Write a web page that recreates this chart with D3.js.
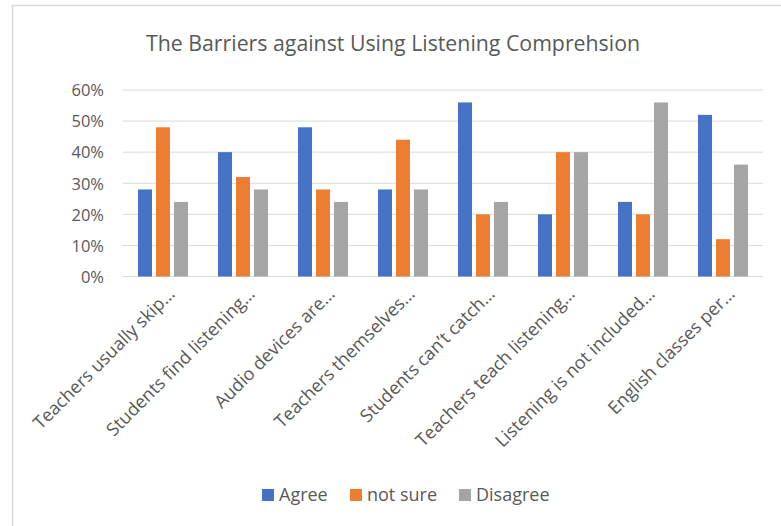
<!DOCTYPE html>
<html><head><meta charset="utf-8">
<script src="https://cdn.jsdelivr.net/npm/d3@7"></script>
<style>html,body{margin:0;padding:0;background:#fff;}svg{display:block;font-family:"Open Sans",sans-serif;}</style>
</head><body>
<script>
const categories = ["Teachers usually skip…","Students find listening…","Audio devices are…","Teachers themselves…","Students can’t catch…","Teachers teach listening…","Listening is not included…","English classes per…"];
const seriesNames = ["Agree","not sure","Disagree"];
const agree    = [0.28,0.40,0.48,0.28,0.56,0.20,0.24,0.52];
const notSure  = [0.48,0.32,0.28,0.44,0.20,0.40,0.20,0.12];
const disagree = [0.24,0.28,0.24,0.28,0.24,0.40,0.56,0.36];
const yTicks = [0,0.1,0.2,0.3,0.4,0.5,0.6];
const colors = ["#4472C4","#ED7D31","#A5A5A5"];
const title = "The Barriers against Using Listening Comprehsion";

const W=781,H=526;
const svg=d3.select("body").append("svg").attr("width",W).attr("height",H);
svg.append("path").attr("d",`M12.5,${H} V5.5 H${W}`).attr("fill","none").attr("stroke","#D9D9D9").attr("stroke-width",1.5);

const series=[agree,notSure,disagree];
const x0=d3.scaleBand().domain(categories).range([123,763]).padding(0);
const x1=d3.scaleBand().domain(seriesNames).range([0,50]).paddingInner(4/18).paddingOuter(0);
const y=d3.scaleLinear().domain([0,0.6]).range([276.5,90]);

const grid=svg.append("g");
grid.selectAll("line").data(yTicks).join("line")
 .attr("x1",123).attr("x2",763).attr("y1",d=>y(d)).attr("y2",d=>y(d))
 .attr("stroke","#D9D9D9").attr("stroke-width",1);

const yAxis=d3.axisLeft(y).tickValues(yTicks).tickFormat(d3.format(".0%")).tickSize(0).tickPadding(0);
const ya=svg.append("g").attr("transform","translate(104,0)").call(yAxis);
ya.select(".domain").remove();
ya.selectAll("text").attr("fill","#595959").style("font-size","16.5px").style("font-family","'Open Sans',sans-serif").attr("dy","0.35em");

const groups=svg.append("g").selectAll("g").data(categories).join("g")
 .attr("transform",d=>`translate(${x0(d)+15},0)`);
groups.selectAll("rect").data((d,i)=>series.map((s,j)=>({k:seriesNames[j],v:s[i],c:colors[j]}))).join("rect")
 .attr("x",d=>x1(d.k)).attr("width",x1.bandwidth())
 .attr("y",d=>y(d.v)).attr("height",d=>y(0)-y(d.v)).attr("fill",d=>d.c);

const xl=svg.append("g");
xl.selectAll("text").data(categories).join("text")
 .attr("transform",d=>`translate(${x0(d)+x0.bandwidth()/2+13},${295}) rotate(-45)`)
 .attr("text-anchor","end").attr("fill","#595959").style("font-size","18px").text(d=>d);

svg.append("text").attr("x",393).attr("y",50.5).attr("text-anchor","middle")
 .attr("fill","#595959").style("font-size","21.3px").text(title);

const legX=[262,350,459];
const leg=svg.append("g").selectAll("g").data(seriesNames).join("g")
 .attr("transform",(d,i)=>`translate(${legX[i]},0)`);
leg.append("rect").attr("x",0).attr("y",489).attr("width",12).attr("height",12).attr("fill",(d,i)=>colors[i]);
leg.append("text").attr("x",17).attr("y",500.5).attr("fill","#595959").style("font-size","18px").text(d=>d);
</script>
</body></html>
